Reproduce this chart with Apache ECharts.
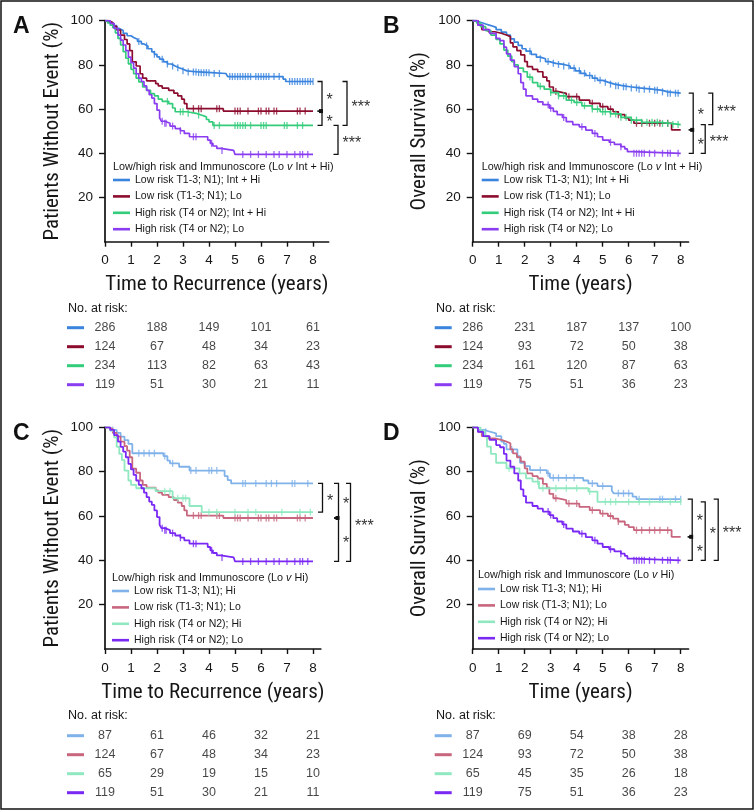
<!DOCTYPE html>
<html><head><meta charset="utf-8">
<script src="https://cdn.jsdelivr.net/npm/echarts@6/dist/echarts.min.js"></script>
<style>html,body{margin:0;padding:0;background:#fff}#c{width:756px;height:811px}</style>
</head><body><div id="c"></div><script>
// ---------- tick labels / categories ----------
const xTicks = [0,1,2,3,4,5,6,7,8];
const yTicks = [20,40,60,80,100];
const riskTimes = [0,2,4,6,8];

// ---------- Panel A: time to recurrence, Lo v Int+Hi ----------
const aLowIntHiT = [0,0.1,0.2,0.3,0.45,0.55,0.7,0.85,1.0,1.1,1.25,1.4,1.5,1.65,1.8,1.9,2.0,2.1,2.25,2.4,2.55,2.7,2.85,3.0,3.15,3.6,4.1,4.65,4.72,6.85,6.95,8.0];
const aLowIntHiV = [100,99.3,98.8,97.8,96.5,95.6,94.3,93.2,92.4,91.6,90.6,89.5,88.6,87.3,85.9,84.8,83.6,82.6,81.4,80.4,79.5,78.7,78.0,77.3,76.8,76.5,76.1,75.2,74.7,73.6,72.5,72.5];
const aLowIntHiCens = [1.3,1.6,1.9,2.2,2.4,2.6,2.8,3.0,3.2,3.4,3.5,3.6,3.7,3.8,3.9,4.0,4.2,4.4,4.8,4.9,5.0,5.1,5.2,5.3,5.4,5.5,5.6,5.8,5.9,6.0,6.1,6.2,6.3,6.5,6.7,7.1,7.2,7.3,7.4,7.5,7.6,7.7,7.8,7.9,8.0];

const tfsLowLoT = [0,0.15,0.3,0.45,0.6,0.75,0.85,0.95,1.05,1.2,1.35,1.45,1.6,1.95,2.05,2.2,2.45,2.65,2.8,2.95,3.05,3.15,4.55,8.0];
const tfsLowLoV = [100,99.2,97.5,95.8,93.5,91.5,89.5,86.5,81.4,79.5,76,74,72.8,71.5,70.5,69.5,68.5,67.2,66,64.5,62.5,60.2,59.1,59.1];
const tfsLowLoCens = [3.4,3.6,3.7,4.3,4.4,5.0,5.1,5.2,5.5,5.9,6.0,6.2,6.3,6.5,6.6,7.4,7.5,7.7];

const aHighIntHiT = [0,0.1,0.2,0.3,0.4,0.5,0.6,0.7,0.8,0.9,1.0,1.1,1.2,1.3,1.45,1.6,1.75,1.9,2.05,2.2,2.45,2.6,2.7,3.15,3.5,3.7,3.9,4.0,4.15,8.0];
const aHighIntHiV = [100,99,98,96.8,94.5,92,89,86,83,80.5,78,76,74,72.3,70,68.5,67,66,64.5,63.5,62.5,60.5,58.8,58.1,57.3,56.5,55.3,54.2,52.6,52.6];
const aHighIntHiCens = [2.4,2.9,3.0,3.2,3.6,4.2,4.4,5.0,5.1,5.2,5.3,5.4,5.6,6.0,6.1,6.2,6.9,7.0,7.4,7.6];

const tfsHighLoT = [0,0.2,0.35,0.5,0.6,0.7,0.8,0.9,1.0,1.1,1.2,1.3,1.4,1.5,1.6,1.7,1.8,1.9,2.0,2.1,2.17,2.3,2.5,2.7,2.9,3.05,3.25,3.95,4.05,4.15,4.3,4.45,4.95,5.0,8.0];
const tfsHighLoV = [100,98.8,96.5,93.5,91.2,89,86.5,83.5,81,78.5,76,74,72.5,70.5,68.5,66.5,65,62.5,59.5,56,54.5,53.6,52.3,51.2,50.2,49,47.5,46,44.5,43.3,42.2,41.3,40.5,39.5,39.5];
const tfsHighLoCens = [2.2,2.3,2.35,2.6,2.9,3.4,3.5,4.1,4.5,5.3,5.6,5.9,6.2,6.5,6.7,7.0,7.3,7.5,7.6,7.8];

// ---------- Panel B: overall survival, Lo v Int+Hi ----------
const bLowIntHiT = [0,0.15,0.3,0.5,0.7,0.9,1.1,1.3,1.45,1.6,1.75,1.9,2.05,2.25,2.45,2.6,2.8,2.95,3.2,3.5,3.75,3.95,4.15,4.35,4.6,4.8,5.0,5.2,5.45,5.75,6.05,6.4,6.9,7.3,7.5,8.0];
const bLowIntHiV = [100,99.3,98.5,97.8,97,96,94.8,93.5,91.8,90.3,88.8,87.3,86.2,84.8,83.5,82.8,81.5,80.7,80.2,79.5,78.5,77.3,76.2,75.2,74,73,72.2,71.3,70.6,70.1,69.6,69,68.5,67.8,67.2,67.2];
const bLowIntHiCens = [2.2,2.6,2.9,3.1,3.3,3.5,3.7,3.9,4.1,4.3,4.5,4.7,4.9,5.1,5.3,5.5,5.6,5.8,5.9,6.1,6.3,6.4,6.6,6.8,7.0,7.1,7.3,7.5,7.6,7.8,7.9];

const osLowLoT = [0,0.2,0.35,0.6,0.85,1.1,1.3,1.45,1.55,1.7,1.85,2.0,2.1,2.3,2.5,2.7,2.85,2.95,3.1,3.25,3.6,4.1,4.5,4.9,5.2,5.4,5.6,5.85,6.0,6.2,7.65,8.0];
const osLowLoV = [100,98,96,95,94.3,93.5,92.8,90,88.2,86.5,84.5,81.5,79.2,78,76.9,74.5,72.8,70,68,67.1,65.6,64.1,62.6,61.1,60,58.8,57.5,56,55,53.6,50.6,50.6];
const osLowLoCens = [3.2,3.7,4.0,4.6,5.0,5.3,5.6,6.3,6.5,6.8,7.0,7.2,7.5];

const bHighIntHiT = [0,0.15,0.3,0.5,0.7,0.9,1.05,1.2,1.35,1.5,1.6,1.75,1.95,2.1,2.3,2.5,2.75,3.0,3.3,3.6,3.9,4.2,4.6,4.9,5.3,5.7,6.1,6.5,7.2,7.6,8.0];
const bHighIntHiV = [100,99,97.3,95.5,93.5,91.5,89.5,86.7,84,81.5,80,78.5,76.9,74.5,72,70.3,69,67.5,66,64,63,61.5,60,58.8,57.8,56.3,55,54,53.5,53,53];
const bHighIntHiCens = [2.2,2.6,3.0,3.3,3.5,3.8,4.0,4.3,4.6,4.8,5.0,5.1,5.3,5.5,5.7,5.9,6.1,6.3,6.5,6.7,6.9,7.1,7.3,7.5,7.7,7.9];

const osHighLoT = [0,0.2,0.4,0.65,0.9,1.05,1.2,1.3,1.45,1.6,1.75,1.85,1.95,2.05,2.3,2.5,2.7,2.95,3.1,3.25,3.45,3.6,3.85,4.1,4.35,4.6,4.8,5.0,5.25,5.45,5.7,5.85,5.95,6.15,8.0];
const osHighLoV = [100,98,96,94.3,92,91,88,85,82.2,79.2,76,72,69,66,64.5,63.3,62,60.4,59,57.5,56.2,54.3,53,52,50.5,49,47.5,46,45,44,43,42,40.8,40,40];
const osHighLoCens = [2.9,3.0,3.5,4.2,4.7,5.3,5.7,6.2,6.3,6.4,6.5,6.6,6.8,7.0,7.3,7.5,7.6,7.9];

// ---------- Panel C: time to recurrence, Lo v Hi ----------
const cLowHiT = [0,0.2,0.45,0.6,0.75,0.9,1.05,2.25,2.4,2.5,2.85,3.25,4.6,4.72,4.85,8.0];
const cLowHiV = [100,98.8,97.5,95.8,94.2,92.5,88.3,87,85,83.7,82.2,80.5,78,76.2,74.7,74.7];
const cLowHiCens = [0.3,1.3,1.5,1.7,1.9,2.3,2.6,3.3,3.5,4.0,4.1,4.3,5.3,5.4,5.8,6.2,6.4,6.6,7.2,7.3,7.8];

const cHighHiT = [0,0.2,0.35,0.45,0.55,0.65,0.75,0.9,1.0,1.2,1.95,2.6,3.25,3.72,8.0];
const cHighHiV = [100,98.5,95.5,91.2,88,85.2,80.5,76,74,72.5,71.2,68,64.5,61.7,61.7];
const cHighHiCens = [2.3,2.5,2.8,3.0,3.1,4.0,4.3,5.0,5.5,5.8,6.8,7.5,7.9];

// ---------- Panel D: overall survival, Lo v Hi ----------
const dLowHiT = [0,0.2,0.45,0.66,0.9,1.1,1.2,1.3,1.72,1.82,2.0,2.2,2.85,2.97,4.25,4.45,4.8,5.35,5.42,6.15,6.3,8.0];
const dLowHiV = [100,98.8,98,97.3,96,93.5,92.5,90,87,84,82.5,80.7,79.2,77.2,76,74.7,73.5,71.5,70.2,68.7,67.6,67.6];
const dLowHiCens = [0.5,1.5,2.6,2.9,3.1,3.3,3.6,3.9,4.6,5.0,5.6,5.8,6.0,6.4,7.2,7.3,7.8,8.0];

const dHighHiT = [0,0.3,0.45,0.55,0.7,0.9,1.3,1.8,2.05,2.3,2.55,4.45,4.8,8.0];
const dHighHiV = [100,98.5,95.8,91.3,88,84,81.5,79.2,77,75.5,72.5,71,66.4,66.4];
const dHighHiCens = [1.4,2.5,2.7,3.2,3.6,4.0,4.5,5.1,5.3,5.5,6.0,6.4,6.8,7.6,8.0];

// ---------- numbers at risk ----------
const riskA = [[286,188,149,101,61],[124,67,48,34,23],[234,113,82,63,43],[119,51,30,21,11]];
const riskB = [[286,231,187,137,100],[124,93,72,50,38],[234,161,120,87,63],[119,75,51,36,23]];
const riskC = [[87,61,46,32,21],[124,67,48,34,23],[65,29,19,15,10],[119,51,30,21,11]];
const riskD = [[87,69,54,38,28],[124,93,72,50,38],[65,45,35,26,18],[119,75,51,36,23]];

// ---------- legend names ----------
const namesIntHi = ['Low risk T1-3; N1); Int + Hi','Low risk (T1-3; N1); Lo','High risk (T4 or N2); Int + Hi','High risk (T4 or N2); Lo'];
const namesHi = ['Low risk T1-3; N1); Hi','Low risk (T1-3; N1); Lo','High risk (T4 or N2); Hi','High risk (T4 or N2); Lo'];

// ---------- significance brackets: [upper curve, lower curve, label] ----------
const bracketsA = [[0,1,'*'],[1,2,'*'],[2,3,'***'],[0,2,'***']];
const bracketsB = [[0,1,'*'],[1,3,'*'],[2,3,'***'],[0,2,'***']];
const bracketsC = [[0,2,'*'],[0,1,'*'],[1,3,'*'],[0,3,'***']];
const bracketsD = [[0,1,'*'],[1,3,'*'],[2,3,'*'],[0,3,'***']];

// ---------- styles / layout ----------
const colorsAB = ['#3a84de','#8c0c2e','#33cc7a','#8a3cf0'];
const colorsCD = ['#80b2ea','#c8667e','#8fe8bf','#7a28f4'];
const SANS = '"Liberation Sans", Arial, Helvetica, sans-serif';
const COND = '"Liberation Sans Narrow", "Roboto Condensed", "DejaVu Sans Condensed", "Liberation Sans", sans-serif';
const TXT = '#161616';

const panels = [
  {id:'A', left:105, top:20.7, h:221, xmax:8.6, tTop:318.2, yName:'Patients Without Event (%)', xName:'Time to Recurrence (years)',
   curves:[[aLowIntHiT,aLowIntHiV,aLowIntHiCens],[tfsLowLoT,tfsLowLoV,tfsLowLoCens],[aHighIntHiT,aHighIntHiV,aHighIntHiCens],[tfsHighLoT,tfsHighLoV,tfsHighLoCens]],
   colors:colorsAB, names:namesIntHi, risk:riskA, br:bracketsA, brOff:[9,9,25,34], legTitle:'Int + Hi', legLeft:113, legTitleY:165, legY:180, letter:[13,15], riskLabel:[68,302], lw:1.7},
  {id:'B', left:472.7, top:20.7, h:221, xmax:8.3, tTop:318.2, yName:'Overall Survival (%)', xName:'Time (years)',
   curves:[[bLowIntHiT,bLowIntHiV,bLowIntHiCens],[osLowLoT,osLowLoV,osLowLoCens],[bHighIntHiT,bHighIntHiV,bHighIntHiCens],[osHighLoT,osHighLoV,osHighLoCens]],
   colors:colorsAB, names:namesIntHi, risk:riskB, br:bracketsB, brOff:[12.5,12.5,24.5,32], legTitle:'Int + Hi', legLeft:481.7, legTitleY:165, legY:180, letter:[383,15], riskLabel:[436,302], lw:1.7},
  {id:'C', left:105, top:427.3, h:221.7, xmax:8.3, tTop:726.2, yName:'Patients Without Event (%)', xName:'Time to Recurrence (years)',
   curves:[[cLowHiT,cLowHiV,cLowHiCens],[tfsLowLoT,tfsLowLoV,tfsLowLoCens],[cHighHiT,cHighHiV,cHighHiCens],[tfsHighLoT,tfsHighLoV,tfsHighLoCens]],
   colors:colorsCD, names:namesHi, risk:riskC, br:bracketsC, brOff:[9.5,25.5,25.5,37.5], legTitle:'Hi', legLeft:112, legTitleY:576, legY:591, letter:[13,422], riskLabel:[68,709.5], lw:1.8},
  {id:'D', left:472.7, top:427.3, h:221.7, xmax:8.3, tTop:726.2, yName:'Overall Survival (%)', xName:'Time (years)',
   curves:[[dLowHiT,dLowHiV,dLowHiCens],[osLowLoT,osLowLoV,osLowLoCens],[dHighHiT,dHighHiV,dHighHiCens],[osHighLoT,osHighLoV,osHighLoCens]],
   colors:colorsCD, names:namesHi, risk:riskD, br:bracketsD, brOff:[11.5,11.5,24.5,37.5], legTitle:'Hi', legLeft:478, legTitleY:573.3, legY:589, letter:[383,422], riskLabel:[436,709.5], lw:1.8}
];
const UNIT = 26; // px per year

function valueAt(t, v, x){ let y=v[0]; for(let i=0;i<t.length;i++){ if(t[i]<=x) y=v[i]; else break; } return y; }

const grid=[], xAxis=[], yAxis=[], series=[], legend=[], title=[];
panels.forEach((p, pi) => {
  const gi = pi*2, ti = pi*2+1;
  const w = UNIT*p.xmax;
  grid.push({left:p.left, top:p.top, width:w, height:p.h});
  grid.push({left:p.left, top:p.tTop, width:w, height:76});
  xAxis.push({type:'value', gridIndex:gi, min:0, max:p.xmax,
    axisLine:{show:true, onZero:false, lineStyle:{color:'#111', width:1.7}},
    axisTick:{show:true, length:5, customValues:xTicks, lineStyle:{color:'#111', width:1.4}},
    axisLabel:{show:true, customValues:xTicks, margin:12, fontSize:13.5, color:TXT, fontFamily:SANS},
    splitLine:{show:false},
    name:p.xName, nameLocation:'middle', nameGap:33, nameTextStyle:{fontSize:21, color:TXT, fontFamily:COND}});
  xAxis.push({type:'value', gridIndex:ti, min:0, max:p.xmax, show:false});
  yAxis.push({type:'value', gridIndex:gi, min:0, max:100,
    axisLine:{show:true, onZero:false, lineStyle:{color:'#111', width:1.7}},
    axisTick:{show:true, length:6, customValues:yTicks, lineStyle:{color:'#111', width:1.4}},
    axisLabel:{show:true, customValues:yTicks, margin:12, fontSize:13.5, color:TXT, fontFamily:SANS},
    splitLine:{show:false},
    name:p.yName, nameLocation:'middle', nameGap:42, nameTextStyle:{fontSize:21, color:TXT, fontFamily:COND}});
  const rich = {};
  p.colors.forEach((c,i)=>{ rich['c'+i] = {width:17, height:3, lineHeight:3, backgroundColor:c}; });
  yAxis.push({type:'category', gridIndex:ti, data:['0','1','2','3'], inverse:true,
    axisLine:{show:false}, axisTick:{show:false}, splitLine:{show:false},
    axisLabel:{margin:21, formatter:(v,i)=>'{c'+i+'|}', rich}});

  const names = [];
  const ends = [];
  p.curves.forEach((cv, ci) => {
    const [t, v, cens] = cv;
    const nm = p.id+'|'+p.names[ci];
    names.push(nm);
    ends.push(v[v.length-1]);
    series.push({type:'line', name:nm, xAxisIndex:gi, yAxisIndex:gi, step:'end', showSymbol:false, symbol:'none',
      data:t.map((x,i)=>[x, v[i]]), lineStyle:{width:p.lw, color:p.colors[ci]}, itemStyle:{color:p.colors[ci]},
      silent:true, z:2+ci});
    series.push({type:'scatter', name:p.id+'cens'+ci, xAxisIndex:gi, yAxisIndex:gi, symbol:'rect', symbolSize:[1.3,7],
      data:cens.map(x=>[x, valueAt(t, v, x)]), itemStyle:{color:p.colors[ci]}, silent:true, z:2+ci});
  });

  // brackets
  const br = p.br.map((b, bi) => {
    const off = p.brOff[bi];
    const dot = p.br.some((o, oi) => oi!==bi && p.brOff[oi]===off && o[1]===b[0]);
    return [8, ends[b[0]], ends[b[1]], bi, off, b[2], dot ? 1 : 0];
  });
  series.push({type:'custom', xAxisIndex:gi, yAxisIndex:gi, clip:false, silent:true, z:10,
    data:br.map(d=>d.slice(0,4)),
    renderItem:(params, api) => {
      const d = br[params.dataIndex];
      const a = api.coord([d[0], d[1]]), b = api.coord([d[0], d[2]]);
      const x = a[0] + d[4];
      const children = [
        {type:'polyline', shape:{points:[[x-4.5,a[1]],[x,a[1]],[x,b[1]],[x-4.5,b[1]]]}, style:{stroke:'#111', lineWidth:1.3, fill:null}},
        {type:'text', style:{text:d[5], x:x+4.5, y:(a[1]+b[1])/2+4, fill:'#333', font:'16px '+SANS, textAlign:'left', textVerticalAlign:'middle'}}
      ];
      if (d[6]) children.push({type:'rect', shape:{x:x-3, y:a[1]-2, width:4, height:4}, style:{fill:'#111'}});
      return {type:'group', children};
    }});

  // risk table numbers
  const rdata = [];
  p.risk.forEach((row, ri) => row.forEach((n, ci) => rdata.push([riskTimes[ci], String(ri), n])));
  series.push({type:'scatter', xAxisIndex:ti, yAxisIndex:ti, symbol:'circle', symbolSize:1, itemStyle:{color:'rgba(0,0,0,0)'}, silent:true,
    data:rdata, label:{show:true, position:'inside', formatter:q=>String(q.data[2]), fontSize:12.5, color:TXT, fontFamily:SANS}});

  legend.push({orient:'vertical', left:p.legLeft, top:p.legY-6.5, padding:0, itemWidth:17, itemHeight:2.6, icon:'rect', itemGap:3.4,
    selectedMode:false, data:names, formatter:n=>n.split('|')[1],
    textStyle:{fontSize:10.5, lineHeight:13, color:TXT, fontFamily:SANS}});
  title.push({text:'Low/high risk and Immunoscore (Lo {i|v} '+p.legTitle+')', left:p.legLeft, top:p.legTitleY-3.5, padding:0,
    textStyle:{fontSize:10.8, fontWeight:'normal', color:TXT, fontFamily:SANS, rich:{i:{fontStyle:'italic', fontSize:10.8, color:TXT, fontFamily:SANS}}}});
  title.push({text:p.id, left:p.letter[0], top:p.letter[1], padding:0, textStyle:{fontSize:23, fontWeight:'bold', color:'#111', fontFamily:SANS}});
  title.push({text:'No. at risk:', left:p.riskLabel[0], top:p.riskLabel[1], padding:0, textStyle:{fontSize:12.5, fontWeight:'normal', color:TXT, fontFamily:SANS}});
});

const chart = echarts.init(document.getElementById('c'), null, {renderer:'canvas'});
chart.setOption({
  animation:false, backgroundColor:'#fff',
  grid, xAxis, yAxis, series, legend, title,
  graphic:[{type:'rect', shape:{x:1, y:1, width:752, height:808}, style:{fill:'none', stroke:'#111', lineWidth:1.5}, silent:true}]
});
</script></body></html>
